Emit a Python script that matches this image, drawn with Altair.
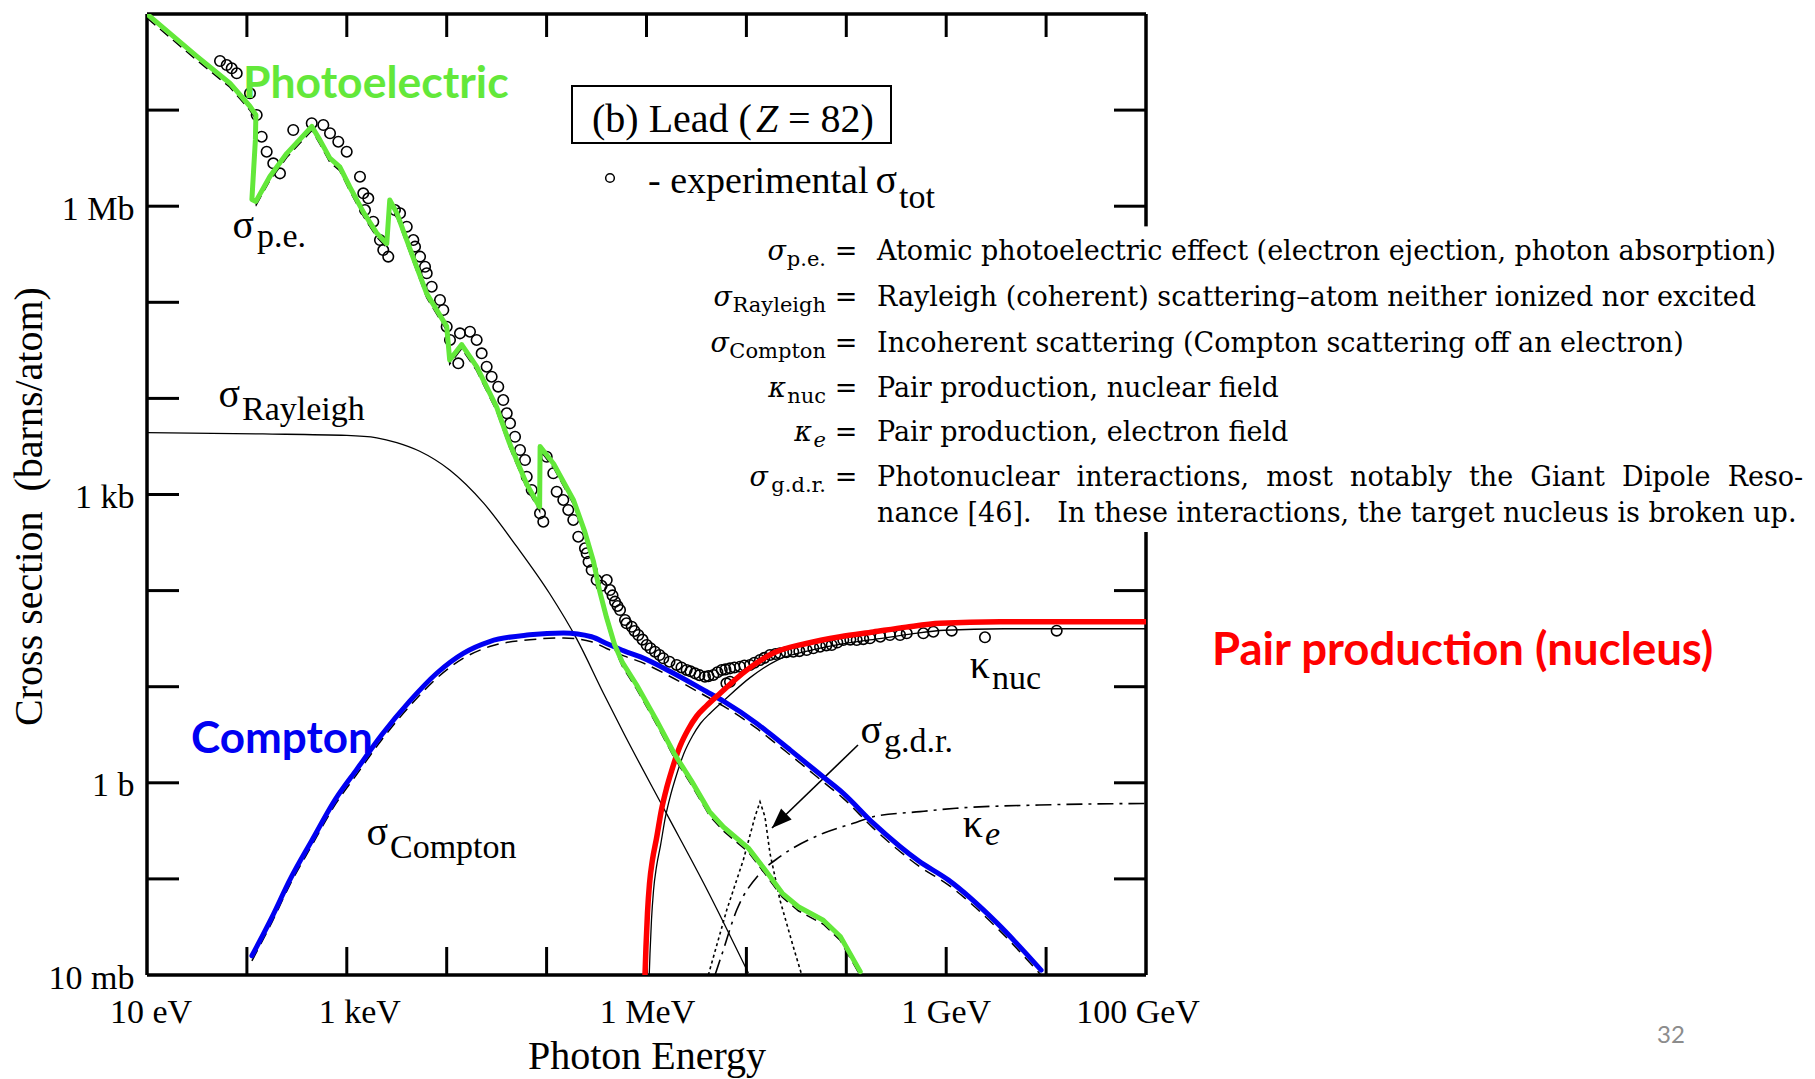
import altair as alt
import pandas as pd

OX, OY = 147, 14          # plot origin on the page
W, H = 999, 961           # plot area

# ---------------- data ----------------
# energies as log10(E / eV), cross sections as log10(sigma / barn)
pe_logE = [1.00, 1.50, 1.83, 2.03, 2.09, 2.085, 2.05, 2.09, 2.23, 2.40, 2.65, 2.73, 2.83, 2.93, 3.03,
           3.17, 3.30, 3.40, 3.43, 3.50, 3.67, 3.80, 4.00, 4.03, 4.15, 4.30, 4.50, 4.63, 4.80, 4.93,
           4.935, 5.07, 5.27, 5.38, 5.47, 5.53, 5.60, 5.68, 5.76, 5.90, 6.10, 6.28, 6.45, 6.63, 6.77,
           7.02, 7.19, 7.36, 7.52, 7.77, 7.94, 8.14]
pe_logS = [8.00, 7.56, 7.28, 7.04, 6.95, 6.69, 6.07, 6.05, 6.31, 6.55, 6.83, 6.69, 6.50, 6.41, 6.20,
           5.93, 5.72, 5.61, 6.065, 5.93, 5.45, 5.09, 4.75, 4.40, 4.56, 4.33, 3.91, 3.53, 3.11, 2.87,
           3.50, 3.32, 2.94, 2.62, 2.30, 2.00, 1.72, 1.44, 1.25, 1.02, 0.65, 0.30, 0.02, -0.30, -0.46,
           -0.68, -0.91, -1.15, -1.29, -1.43, -1.60, -1.965]

co_logE = [2.05, 2.25, 2.43, 2.65, 2.89, 3.10, 3.35, 3.63, 3.90, 4.17, 4.43, 4.83, 5.17, 5.45, 5.60,
           5.78, 5.94, 6.27, 6.60, 6.77, 7.10, 7.23, 7.44, 7.77, 7.97, 8.27, 8.54, 8.72, 9.02, 9.51, 9.95]
co_logS = [-1.80, -1.40, -1.01, -0.60, -0.165, 0.14, 0.50, 0.85, 1.14, 1.35, 1.47, 1.54, 1.56, 1.52, 1.45,
           1.37, 1.31, 1.14, 0.95, 0.85, 0.62, 0.515, 0.34, 0.06, -0.11, -0.42, -0.665, -0.81, -1.01, -1.46, -1.95]

ra_logE = [1.00, 2.16, 3.00, 3.30, 3.50, 3.73, 4.03, 4.37, 4.70, 5.03, 5.30, 5.57, 5.78, 6.19, 6.61, 7.02]
ra_logS = [3.643, 3.63, 3.615, 3.59, 3.54, 3.45, 3.255, 2.91, 2.46, 1.97, 1.50, 0.93, 0.50, -0.30, -1.12, -1.98]

nu_logE = [5.985, 5.995, 6.010, 6.030, 6.060, 6.100, 6.150, 6.20, 6.25, 6.335, 6.42, 6.50, 6.60, 6.735,
           7.00, 7.27, 7.60, 7.94, 8.27, 8.60, 8.94, 9.54, 11.0]
nu_logS = [-2.00, -1.70, -1.35, -1.05, -0.80, -0.58, -0.28, -0.06, 0.12, 0.38, 0.56, 0.69, 0.80, 0.93,
           1.17, 1.35, 1.45, 1.52, 1.57, 1.62, 1.66, 1.676, 1.676]

ke_logE = [6.686, 6.75, 6.903, 7.136, 7.336, 7.77, 8.07, 8.268, 8.738, 9.098, 9.929, 11.0]
ke_logS = [-2.00, -1.80, -1.324, -0.942, -0.769, -0.525, -0.421, -0.353, -0.300, -0.265, -0.231, -0.215]

gd_logE = [6.619, 6.803, 6.969, 7.086, 7.136, 7.186, 7.236, 7.336, 7.469, 7.554]
gd_logS = [-2.00, -1.324, -0.804, -0.353, -0.197, -0.353, -0.734, -1.220, -1.705, -2.00]

ex_logE = [1.731, 1.798, 1.848, 1.898, 2.031, 2.098, 2.148, 2.198, 2.264, 2.331, 2.464, 2.649, 2.765, 2.832,
           2.915, 2.999, 3.132, 3.165, 3.182, 3.215, 3.265, 3.332, 3.365, 3.415, 3.482, 3.533, 3.600, 3.666,
           3.683, 3.733, 3.783, 3.800, 3.850, 3.933, 3.966, 4.000, 4.033, 4.116, 4.133, 4.233, 4.300, 4.350,
           4.400, 4.450, 4.516, 4.566, 4.601, 4.634, 4.684, 4.734, 4.784, 4.801, 4.851, 4.934, 4.967, 5.001,
           5.067, 5.101, 5.167, 5.217, 5.267, 5.317, 5.384, 5.401, 5.42, 5.451, 5.501, 5.55, 5.602, 5.635,
           5.66, 5.685, 5.71, 5.735, 5.785, 5.80, 5.852, 5.88, 5.918, 5.96, 6.002, 6.04, 6.085, 6.13, 6.168,
           6.23, 6.302, 6.35, 6.402, 6.44, 6.485, 6.53, 6.585, 6.62, 6.669, 6.71, 6.753, 6.79, 6.80, 6.836,
           6.836, 6.88, 6.936, 6.98, 7.036, 7.08, 7.136, 7.18, 7.236, 7.29, 7.336, 7.40, 7.469, 7.53, 7.603,
           7.67, 7.737, 7.80, 7.854, 7.91, 7.970, 8.04, 8.104, 8.17, 8.237, 8.34, 8.437, 8.538, 8.605, 8.771,
           8.871, 9.055, 9.388, 10.106]
ex_logS = [7.511, 7.469, 7.435, 7.383, 7.175, 6.949, 6.723, 6.567, 6.446, 6.342, 6.793, 6.863, 6.845, 6.759,
           6.671, 6.567, 6.307, 6.134, 5.960, 6.082, 5.839, 5.648, 5.544, 5.475, 5.960, 5.926, 5.787, 5.648,
           5.579, 5.475, 5.370, 5.302, 5.162, 5.024, 4.920, 4.746, 4.608, 4.365, 4.677, 4.694, 4.608, 4.469,
           4.330, 4.226, 4.122, 3.983, 3.845, 3.741, 3.601, 3.463, 3.359, 3.185, 3.047, 2.804, 2.717, 3.393,
           3.221, 3.029, 2.943, 2.839, 2.735, 2.561, 2.440, 2.388, 2.30, 2.214, 2.110, 2.05, 2.110, 2.006,
           1.95, 1.885, 1.84, 1.798, 1.694, 1.66, 1.624, 1.58, 1.538, 1.49, 1.434, 1.40, 1.364, 1.33, 1.296,
           1.26, 1.226, 1.20, 1.174, 1.16, 1.139, 1.12, 1.104, 1.11, 1.122, 1.15, 1.174, 1.18, 1.035, 1.191,
           1.052, 1.20, 1.208, 1.22, 1.226, 1.25, 1.278, 1.30, 1.330, 1.34, 1.348, 1.36, 1.364, 1.37, 1.382,
           1.40, 1.416, 1.43, 1.434, 1.46, 1.486, 1.49, 1.486, 1.495, 1.504, 1.52, 1.538, 1.538, 1.556, 1.556,
           1.572, 1.583, 1.514, 1.583]

arrow_logE = [8.117, 7.256]      # label -> tip
arrow_logS = [0.393, -0.470]

x_decades = [1e2, 1e3, 1e4, 1e5, 1e6, 1e7, 1e8, 1e9, 1e10]
y_decades = [1e-1, 1e0, 1e1, 1e2, 1e3, 1e4, 1e5, 1e6, 1e7]
y_decades_right = [1e-1, 1e0, 1e1, 1e2, 1e6, 1e7]
x_tick_text = ["10 eV", "1 keV", "1 MeV", "1 GeV", "100 GeV"]
x_tick_text_logE = [1.04, 3.13, 6.01, 9.00, 10.92]   # where each label sits under the axis
y_label_values = [1e-2, 1, 1e3, 1e6]

GREEN, BLUE, RED = "#63E83A", "#0000F2", "#FF0000"
SERIF = "Liberation Serif"
LEG = "DejaVu Serif"
SANS = "Lato"

xs = alt.Scale(type="log", domain=[10, 1e11], nice=False)
ys = alt.Scale(type="log", domain=[1e-2, 1e8], nice=False)

XAX = alt.Axis(
    values=[10, 1e11], labels=False,
    ticks=False, tickSize=0, domain=False, grid=False,
    title="Photon Energy", titleFont=SERIF, titleFontSize=40, titleFontWeight="normal",
    titleColor="black", titleY=93, titleBaseline="alphabetic")
YAX = alt.Axis(
    values=y_label_values,
    labelExpr="datum.value < 0.1 ? '10 mb' : datum.value < 10 ? '1 b' : datum.value < 1e4 ? '1 kb' : '1 Mb'",
    ticks=False, tickSize=0, domain=False, grid=False,
    labelFont=SERIF, labelFontSize=34, labelColor="black", labelPadding=13, labelOffset=3,
    labelFlush=False, labelOverlap=False, labelBound=False,
    title="Cross section\u00a0\u00a0(barns/atom)", titleFont=SERIF, titleFontSize=40,
    titleFontWeight="normal", titleColor="black", titleX=-106, titleY=492,
    titleBaseline="alphabetic", titleAngle=270)


def X(f):
    return alt.X(f, scale=xs, axis=XAX)


def Y(f):
    return alt.Y(f, scale=ys, axis=YAX)


def curve(logE, logS):
    return pd.DataFrame({"i": list(range(len(logE))),
                         "E": [10 ** v for v in logE],
                         "S": [10 ** v for v in logS]})


def line(df, **kw):
    return alt.Chart(df).mark_line(clip=True, **kw).encode(x=X("E:Q"), y=Y("S:Q"), order="i:Q")


def texts(rows, align="left", **kw):
    df = pd.DataFrame(rows, columns=["px", "py", "t"])
    df["px"] = df["px"] - OX
    df["py"] = df["py"] - OY
    return alt.Chart(df).mark_text(align=align, baseline="alphabetic", **kw).encode(
        x=alt.X("px:Q", scale=None), y=alt.Y("py:Q", scale=None), text="t:N")


# ---------------- frame + ticks ----------------
frame_df = pd.DataFrame({
    "E1": [10, 10, 10, 1e11, 1e11],
    "E2": [10, 1e11, 1e11, 1e11, 1e11],
    "S1": [1e-2, 1e-2, 1e8, 10 ** 5.79, 1e-2],
    "S2": [1e8, 1e-2, 1e8, 1e8, 10 ** 2.61],
})
frame = alt.Chart(frame_df).mark_rule(strokeWidth=3.5, color="black").encode(
    x=X("E1:Q"), x2="E2:Q", y=Y("S1:Q"), y2="S2:Q")

xt = pd.DataFrame({"E": x_decades})
yt = pd.DataFrame({"S": y_decades})
ytr = pd.DataFrame({"S": y_decades_right})
tick_b = alt.Chart(xt).mark_rule(strokeWidth=3, color="black").encode(
    x=X("E:Q"), y=alt.value(H), y2=alt.value(H - 28))
tick_t = alt.Chart(xt).mark_rule(strokeWidth=3, color="black").encode(
    x=X("E:Q"), y=alt.value(0), y2=alt.value(23))
tick_l = alt.Chart(yt).mark_rule(strokeWidth=3, color="black").encode(
    y=Y("S:Q"), x=alt.value(0), x2=alt.value(32))
tick_r = alt.Chart(ytr).mark_rule(strokeWidth=3, color="black").encode(
    y=Y("S:Q"), x=alt.value(W - 32), x2=alt.value(W))

xlab_df = pd.DataFrame({"E": [10 ** v for v in x_tick_text_logE], "t": x_tick_text})
xlabels = alt.Chart(xlab_df).mark_text(
    font=SERIF, fontSize=34, color="black", align="center", baseline="alphabetic").encode(
    x=X("E:Q"), y=alt.value(H + 48), text="t:N")

# ---------------- curves ----------------
pe = curve(pe_logE, pe_logS)
co = curve(co_logE, co_logS)
nu = curve(nu_logE, nu_logS)

rayleigh = line(curve(ra_logE, ra_logS), color="black", strokeWidth=1.3, interpolate="monotone")
kappa_e = line(curve(ke_logE, ke_logS), color="black", strokeWidth=1.6, strokeDash=[16, 6, 3, 6],
               interpolate="monotone")
gdr = line(curve(gd_logE, gd_logS), color="black", strokeWidth=1.6, strokeDash=[3, 3])
pe_dash = line(pe, color="black", strokeWidth=1.5, strokeDash=[11, 6], yOffset=4)
co_dash = line(co, color="black", strokeWidth=1.5, strokeDash=[12, 7], yOffset=5, interpolate="monotone")
nu_thin = line(nu, color="black", strokeWidth=1.3, xOffset=4, yOffset=7, interpolate="monotone")

arrow_df = curve(arrow_logE, arrow_logS)
arrow_line = alt.Chart(arrow_df).mark_line(color="black", strokeWidth=1.6).encode(
    x=X("E:Q"), y=Y("S:Q"), order="i:Q")
arrow_head = alt.Chart(arrow_df.iloc[[1]]).mark_point(
    shape="M0,0L-0.38,1L0.38,1Z", filled=True, color="black", size=1600, angle=226, opacity=1).encode(
    x=X("E:Q"), y=Y("S:Q"))

exp_pts = alt.Chart(curve(ex_logE, ex_logS)).mark_point(
    shape="circle", filled=False, size=110, color="black", strokeWidth=1.6, opacity=1).encode(
    x=X("E:Q"), y=Y("S:Q"))

blue = line(co, color=BLUE, strokeWidth=5, strokeCap="round", strokeJoin="round", interpolate="monotone")
red = line(nu, color=RED, strokeWidth=5.5, strokeCap="round", strokeJoin="round", interpolate="monotone")
green = line(pe, color=GREEN, strokeWidth=5, strokeCap="round", strokeJoin="round")

# ---------------- annotations ----------------
box_df = pd.DataFrame({"x1": [572 - OX], "x2": [891 - OX], "y1": [86 - OY], "y2": [143 - OY]})
box = alt.Chart(box_df).mark_rect(fill="white", fillOpacity=0, stroke="black", strokeWidth=2).encode(
    x=alt.X("x1:Q", scale=None), x2="x2:Q", y=alt.Y("y1:Q", scale=None), y2="y2:Q")
leg_pt = alt.Chart(pd.DataFrame({"px": [610 - OX], "py": [178 - OY]})).mark_point(
    shape="circle", filled=False, size=75, color="black", strokeWidth=1.5, opacity=1).encode(
    x=alt.X("px:Q", scale=None), y=alt.Y("py:Q", scale=None))

greek_big = texts([(254, 238, "σ"), (240, 407, "σ"), (388, 845, "σ"), (882, 743, "σ"),
                   (990, 678, "κ"), (983, 837, "κ"), (897, 193, "σ")],
                  align="right", font=SERIF, fontSize=40, color="black")
subs = texts([(257, 247, "p.e."), (242, 420, "Rayleigh"), (390, 858, "Compton"),
              (884, 752, "g.d.r."), (992, 689, "nuc"), (899, 208, "tot")],
             font=SERIF, fontSize=34, color="black")
sub_e = texts([(985, 845, "e")], font=SERIF, fontSize=34, fontStyle="italic", color="black")
lead = texts([(592, 132, "(b) Lead ("), (788, 132, "= 82)")], font=SERIF, fontSize=40, color="black")
lead_z = texts([(756, 132, "Z")], font=SERIF, fontSize=40, fontStyle="italic", color="black")
expt = texts([(648, 193, "- experimental")], font=SERIF, fontSize=38, color="black")

photo_lbl = texts([(243, 98, "Photoelectric")], font=SANS, fontSize=44.5, fontWeight="bold", color=GREEN)
comp_lbl = texts([(191, 753, "Compton")], font=SANS, fontSize=44, fontWeight="bold", color=BLUE)
pair_lbl = texts([(1212, 665, "Pair production (nucleus)")], font=SANS, fontSize=45.5,
                 fontWeight="bold", color=RED)
page_no = texts([(1671, 1043, "32")], align="center", font=SANS, fontSize=24, color="#8C8C8C")

rows_y = [260, 306, 352, 397, 441, 486, 522]
desc = texts([
    (877, rows_y[0], "Atomic photoelectric effect (electron ejection, photon absorption)"),
    (877, rows_y[1], "Rayleigh (coherent) scattering–atom neither ionized nor excited"),
    (877, rows_y[2], "Incoherent scattering (Compton scattering off an electron)"),
    (877, rows_y[3], "Pair production, nuclear field"),
    (877, rows_y[4], "Pair production, electron field"),
    (877, rows_y[5], "Photonuclear\u00a0 interactions,\u00a0 most\u00a0 notably\u00a0 the\u00a0 Giant\u00a0 Dipole\u00a0 Reso-"),
    (877, rows_y[6], "nance [46].\u00a0\u00a0 In these interactions, the target nucleus is broken up."),
], font=LEG, fontSize=27, color="black")
eqs = texts([(846, y, "=") for y in rows_y[:6]], align="center", font=LEG, fontSize=27, color="black")
leg_sym = texts([(786, rows_y[0], "σ"), (732, rows_y[1], "σ"), (729, rows_y[2], "σ"),
                 (786, rows_y[3], "κ"), (812, rows_y[4], "κ"), (768, rows_y[5], "σ")],
                align="right", font=LEG, fontSize=27, fontStyle="italic", color="black")
leg_sub = texts([(826, rows_y[0] + 6, "p.e."), (826, rows_y[1] + 6, "Rayleigh"),
                 (826, rows_y[2] + 6, "Compton"), (826, rows_y[3] + 6, "nuc"),
                 (826, rows_y[5] + 6, "g.d.r.")],
                align="right", font=LEG, fontSize=21, color="black")
leg_sub_e = texts([(826, rows_y[4] + 6, "e")], align="right", font=LEG, fontSize=21,
                  fontStyle="italic", color="black")

chart = alt.layer(
    frame, tick_b, tick_t, tick_l, tick_r, xlabels,
    rayleigh, kappa_e, gdr, pe_dash, co_dash, nu_thin,
    arrow_line, arrow_head, exp_pts,
    blue, red, green,
    box, leg_pt, greek_big, subs, sub_e, lead, lead_z, expt,
    photo_lbl, comp_lbl, pair_lbl, page_no,
    desc, eqs, leg_sym, leg_sub, leg_sub_e,
).properties(
    width=W, height=H,
    padding={"left": OX, "top": OY, "right": 1815 - OX - W, "bottom": 1079 - OY - H},
    autosize=alt.AutoSizeParams(type="none"),
    background="white",
).configure_view(stroke=None)

chart.save("out.html", embed_options={"renderer": "svg", "actions": False})
